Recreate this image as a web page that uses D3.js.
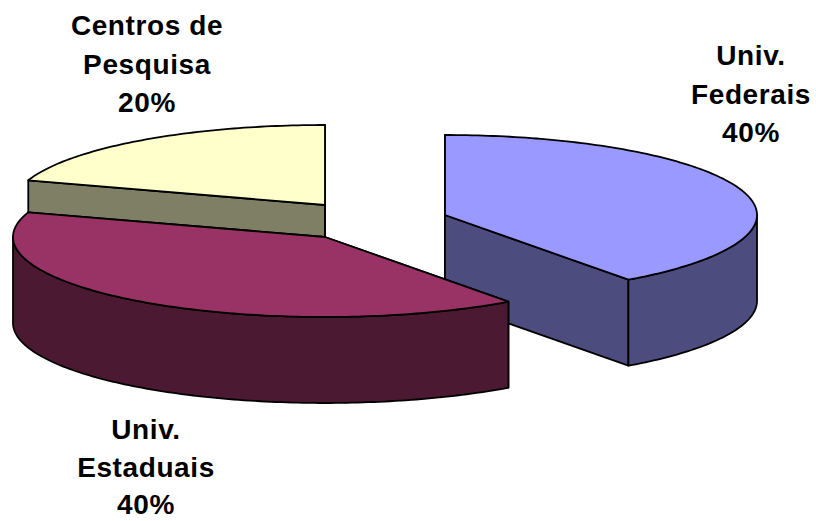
<!DOCTYPE html>
<html>
<head>
<meta charset="utf-8">
<script src="https://cdn.jsdelivr.net/npm/d3@7"></script>
<style>
  html, body { margin: 0; padding: 0; background: #ffffff; }
  svg { display: block; }
</style>
</head>
<body>
<svg id="chart" width="816" height="521"></svg>
<script>
// Distribution of research institutions (share, %)
const categories = ["Univ. Federais", "Univ. Estaduais", "Centros de Pesquisa"];
const labelLines = [["Univ.", "Federais"], ["Univ.", "Estaduais"], ["Centros de", "Pesquisa"]];
const values = [40, 40, 20];

// Appearance of each slice: top face and side walls
const topColors = ["#9999ff", "#993366", "#ffffcc"];
const sideColors = ["#4c4c7f", "#4c1933", "#7f7f66"];

// 3D layout: ellipse radii, slice thickness, pie centre and per-slice explode offset
const W = 816, H = 521;
const rx = 312, ry = 80, depth = 86;
const cx = 325, cy = 237;
const explode = [[120, -22], [0, 0], [0, -32]];
// label anchor (centre x, first baseline) and line spacing per label
const labelPos = [[751, 65], [146, 439], [147, 35]];
const lineGaps = [38.5, 37.5, 38.5];
// painter's order: back slice first
const drawOrder = [2, 0, 1];

const svg = d3.select("#chart");

const pie = d3.pie().sort(null).value(d => d);
const arcs = pie(values);

// point on the projected rim; angle measured clockwise from 12 o'clock
const rim = (ox, oy, a, dz = 0) => [ox + rx * Math.sin(a), oy - ry * Math.cos(a) + dz];
const line = d3.line();

function arcPoints(ox, oy, a0, a1, dz) {
  const n = Math.max(2, Math.ceil(Math.abs(a1 - a0) / (Math.PI / 180)));
  return d3.range(n + 1).map(i => rim(ox, oy, a0 + (a1 - a0) * i / n, dz));
}

const g = svg.append("g");

drawOrder.forEach(i => {
  const d = arcs[i];
  const ox = cx + explode[i][0], oy = cy + explode[i][1];
  const a0 = d.startAngle, a1 = d.endAngle;
  const sg = g.append("g").attr("class", "slice");
  const style = sel => sel.attr("stroke", "#000").attr("stroke-width", 1.8).attr("stroke-linejoin", "round");

  // radial cut faces
  [a0, a1].forEach(a => {
    const p = rim(ox, oy, a);
    const pts = [[ox, oy], p, [p[0], p[1] + depth], [ox, oy + depth]];
    sg.append("path").attr("d", line(pts) + "Z").attr("fill", sideColors[i]).call(style);
  });

  // outer wall: only the part facing the viewer (between 3 and 9 o'clock)
  const f0 = Math.max(a0, Math.PI / 2), f1 = Math.min(a1, 3 * Math.PI / 2);
  if (f1 > f0) {
    const topEdge = arcPoints(ox, oy, f0, f1, 0);
    const botEdge = arcPoints(ox, oy, f1, f0, depth);
    sg.append("path").attr("d", line(topEdge.concat(botEdge)) + "Z")
      .attr("fill", sideColors[i]).call(style);
  }

  // top face
  const topPts = [[ox, oy]].concat(arcPoints(ox, oy, a0, a1, 0));
  sg.append("path").attr("d", line(topPts) + "Z").attr("fill", topColors[i]).call(style);
});

// category labels with percentages
const total = d3.sum(values);
const fmt = v => Math.round(v / total * 100) + "%";
categories.forEach((c, i) => {
  const t = svg.append("text")
    .attr("x", labelPos[i][0]).attr("y", labelPos[i][1])
    .attr("text-anchor", "middle")
    .attr("font-family", "Liberation Sans, Arial, sans-serif")
    .attr("font-weight", "bold").attr("font-size", 28)
    .attr("letter-spacing", 0.6)
    .attr("fill", "#000");
  labelLines[i].concat([fmt(values[i])]).forEach((s, k) => {
    t.append("tspan").attr("x", labelPos[i][0]).attr("y", labelPos[i][1] + k * lineGaps[i]).text(s);
  });
});
</script>
</body>
</html>
